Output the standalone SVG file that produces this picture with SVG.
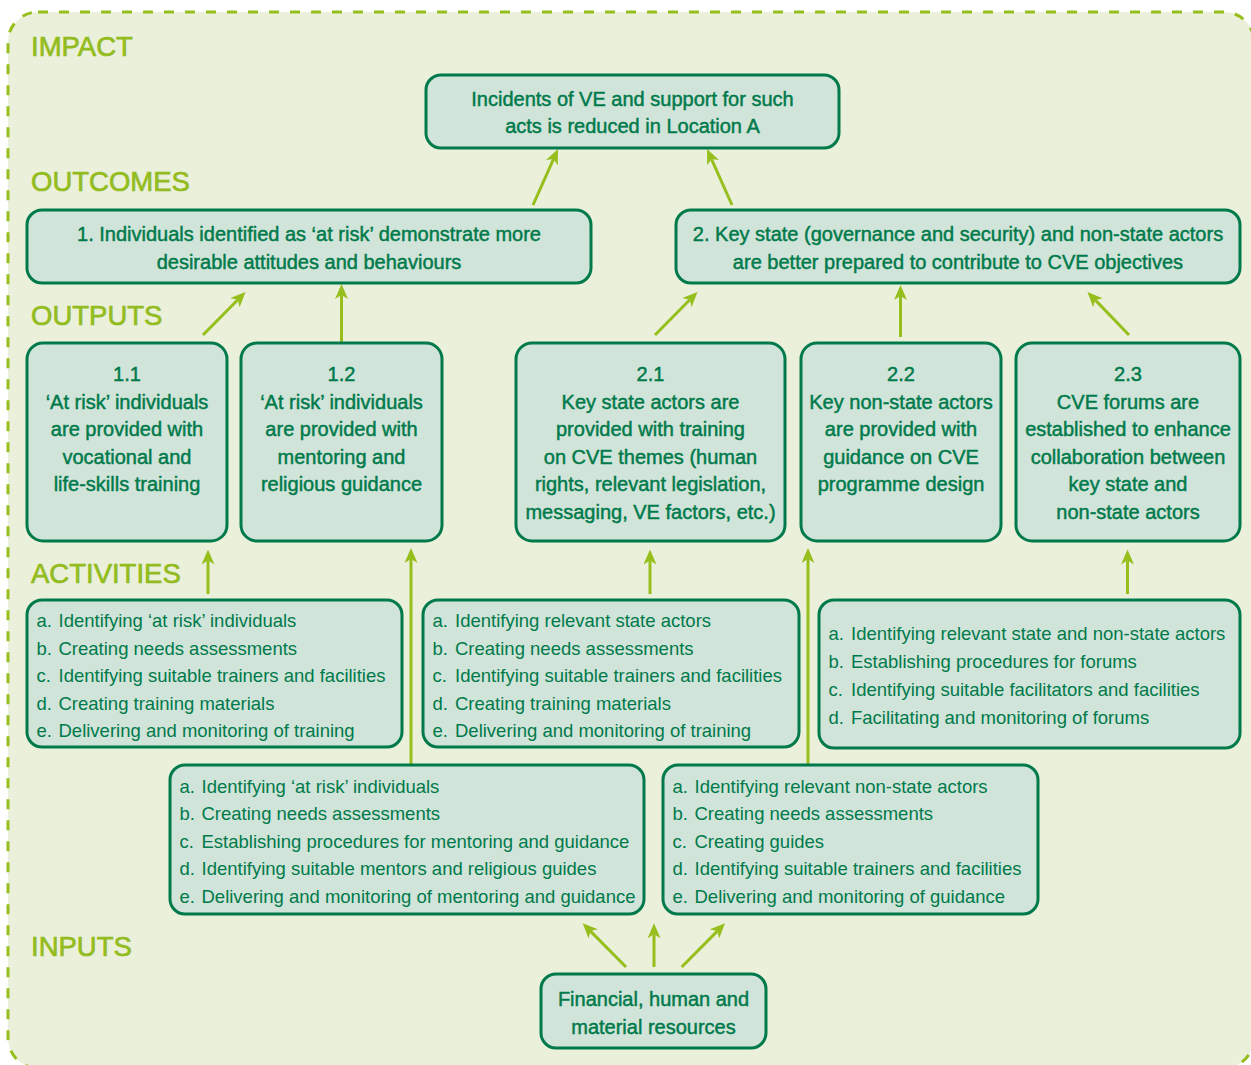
<svg xmlns="http://www.w3.org/2000/svg" width="1251" height="1065" viewBox="0 0 1251 1065">
<style>
.sec{font-family:"Liberation Sans",Arial,sans-serif;font-size:27.5px;fill:#93bc1f;stroke:#93bc1f;stroke-width:0.7}
.box{fill:#d1e4d9;stroke:#007a4b;stroke-width:3}
.h{font-family:"Liberation Sans",Arial,sans-serif;font-size:20px;fill:#007a4b;stroke:#007a4b;stroke-width:0.45;text-anchor:middle}
.t{font-family:"Liberation Sans",Arial,sans-serif;font-size:18.5px;fill:#007a4b}
.c{fill:none;stroke:#96bf1e;stroke-width:3}
</style>
<defs>
<marker id="ah" viewBox="0 0 15 13" refX="4" refY="6.5" markerWidth="15" markerHeight="13" orient="auto" markerUnits="userSpaceOnUse">
<path d="M0,0 L15,6.5 L0,13 L4,6.5 Z" fill="#96bf1e"/>
</marker>
</defs>
<rect x="0" y="0" width="1251" height="1065" fill="#ffffff"/>
<rect x="8" y="12" width="1246" height="1056" rx="30" fill="#ebf0da" stroke="#96bf1e" stroke-width="3" stroke-dasharray="10 11"/>

<g id="section-labels">
<text class="sec" x="31" y="56">IMPACT</text>
<text class="sec" x="31" y="191">OUTCOMES</text>
<text class="sec" x="31" y="325">OUTPUTS</text>
<text class="sec" x="31" y="583">ACTIVITIES</text>
<text class="sec" x="31" y="956">INPUTS</text>
</g>

<g id="connectors">
<line class="c" x1="533" y1="205" x2="553.5" y2="159.1" marker-end="url(#ah)"/>
<line class="c" x1="732" y1="205" x2="711.5" y2="159.1" marker-end="url(#ah)"/>
<line class="c" x1="203" y1="335" x2="237.8" y2="299.8" marker-end="url(#ah)"/>
<line class="c" x1="341.5" y1="343" x2="341.5" y2="295" marker-end="url(#ah)"/>
<line class="c" x1="655" y1="335" x2="689.8" y2="299.8" marker-end="url(#ah)"/>
<line class="c" x1="900.5" y1="337" x2="900.5" y2="296" marker-end="url(#ah)"/>
<line class="c" x1="1129" y1="335" x2="1095.1" y2="299.9" marker-end="url(#ah)"/>
<line class="c" x1="208" y1="594" x2="208" y2="560.5" marker-end="url(#ah)"/>
<line class="c" x1="650" y1="594" x2="650" y2="560.5" marker-end="url(#ah)"/>
<line class="c" x1="1127.5" y1="594" x2="1127.5" y2="560.5" marker-end="url(#ah)"/>
<line class="c" x1="411" y1="765" x2="411" y2="559" marker-end="url(#ah)"/>
<line class="c" x1="808" y1="765" x2="808" y2="559" marker-end="url(#ah)"/>
<line class="c" x1="626" y1="967" x2="590.4" y2="931.1" marker-end="url(#ah)"/>
<line class="c" x1="654" y1="967" x2="654" y2="934.3" marker-end="url(#ah)"/>
<line class="c" x1="681.7" y1="967" x2="717.3" y2="931.1" marker-end="url(#ah)"/>
</g>

<g id="impact">
<rect class="box" x="426" y="75" width="413" height="73" rx="15"/>
<text class="h" x="632.5" y="106">Incidents of VE and support for such</text>
<text class="h" x="632.5" y="133">acts is reduced in Location A</text>
</g>

<g id="outcome-1">
<rect class="box" x="27" y="210" width="564" height="73" rx="15"/>
<text class="h" x="309" y="241">1. Individuals identified as ‘at risk’ demonstrate more</text>
<text class="h" x="309" y="269">desirable attitudes and behaviours</text>
</g>

<g id="outcome-2">
<rect class="box" x="676" y="210" width="564" height="73" rx="15"/>
<text class="h" x="958" y="241">2. Key state (governance and security) and non-state actors</text>
<text class="h" x="958" y="269">are better prepared to contribute to CVE objectives</text>
</g>

<g id="output-1-1">
<rect class="box" x="27" y="343" width="200" height="198" rx="16"/>
<text class="h" x="127" y="381">1.1</text>
<text class="h" x="127" y="408.5">‘At risk’ individuals</text>
<text class="h" x="127" y="436">are provided with</text>
<text class="h" x="127" y="463.5">vocational and</text>
<text class="h" x="127" y="491">life-skills training</text>
</g>

<g id="output-1-2">
<rect class="box" x="241" y="343" width="201" height="198" rx="16"/>
<text class="h" x="341.5" y="381">1.2</text>
<text class="h" x="341.5" y="408.5">‘At risk’ individuals</text>
<text class="h" x="341.5" y="436">are provided with</text>
<text class="h" x="341.5" y="463.5">mentoring and</text>
<text class="h" x="341.5" y="491">religious guidance</text>
</g>

<g id="output-2-1">
<rect class="box" x="516" y="343" width="269" height="198" rx="16"/>
<text class="h" x="650.5" y="381">2.1</text>
<text class="h" x="650.5" y="408.5">Key state actors are</text>
<text class="h" x="650.5" y="436">provided with training</text>
<text class="h" x="650.5" y="463.5">on CVE themes (human</text>
<text class="h" x="650.5" y="491">rights, relevant legislation,</text>
<text class="h" x="650.5" y="518.5">messaging, VE factors, etc.)</text>
</g>

<g id="output-2-2">
<rect class="box" x="801" y="343" width="200" height="198" rx="16"/>
<text class="h" x="901" y="381">2.2</text>
<text class="h" x="901" y="408.5">Key non-state actors</text>
<text class="h" x="901" y="436">are provided with</text>
<text class="h" x="901" y="463.5">guidance on CVE</text>
<text class="h" x="901" y="491">programme design</text>
</g>

<g id="output-2-3">
<rect class="box" x="1016" y="343" width="224" height="198" rx="16"/>
<text class="h" x="1128" y="381">2.3</text>
<text class="h" x="1128" y="408.5">CVE forums are</text>
<text class="h" x="1128" y="436">established to enhance</text>
<text class="h" x="1128" y="463.5">collaboration between</text>
<text class="h" x="1128" y="491">key state and</text>
<text class="h" x="1128" y="518.5">non-state actors</text>
</g>

<g id="activities-1-1">
<rect class="box" x="27" y="600" width="375" height="147" rx="15"/>
<text class="t" x="36.5" y="627">a.</text><text class="t" x="58.5" y="627">Identifying ‘at risk’ individuals</text>
<text class="t" x="36.5" y="654.5">b.</text><text class="t" x="58.5" y="654.5">Creating needs assessments</text>
<text class="t" x="36.5" y="682">c.</text><text class="t" x="58.5" y="682">Identifying suitable trainers and facilities</text>
<text class="t" x="36.5" y="709.5">d.</text><text class="t" x="58.5" y="709.5">Creating training materials</text>
<text class="t" x="36.5" y="737">e.</text><text class="t" x="58.5" y="737">Delivering and monitoring of training</text>
</g>

<g id="activities-2-1">
<rect class="box" x="423" y="600" width="376" height="147" rx="15"/>
<text class="t" x="432.5" y="627">a.</text><text class="t" x="455" y="627">Identifying relevant state actors</text>
<text class="t" x="432.5" y="654.5">b.</text><text class="t" x="455" y="654.5">Creating needs assessments</text>
<text class="t" x="432.5" y="682">c.</text><text class="t" x="455" y="682">Identifying suitable trainers and facilities</text>
<text class="t" x="432.5" y="709.5">d.</text><text class="t" x="455" y="709.5">Creating training materials</text>
<text class="t" x="432.5" y="737">e.</text><text class="t" x="455" y="737">Delivering and monitoring of training</text>
</g>

<g id="activities-2-3">
<rect class="box" x="819" y="600" width="421" height="148" rx="15"/>
<text class="t" x="828.5" y="640">a.</text><text class="t" x="851" y="640">Identifying relevant state and non-state actors</text>
<text class="t" x="828.5" y="668">b.</text><text class="t" x="851" y="668">Establishing procedures for forums</text>
<text class="t" x="828.5" y="696">c.</text><text class="t" x="851" y="696">Identifying suitable facilitators and facilities</text>
<text class="t" x="828.5" y="723.5">d.</text><text class="t" x="851" y="723.5">Facilitating and monitoring of forums</text>
</g>

<g id="activities-1-2">
<rect class="box" x="170" y="765" width="474" height="149" rx="15"/>
<text class="t" x="179.5" y="792.5">a.</text><text class="t" x="201.5" y="792.5">Identifying ‘at risk’ individuals</text>
<text class="t" x="179.5" y="820">b.</text><text class="t" x="201.5" y="820">Creating needs assessments</text>
<text class="t" x="179.5" y="847.5">c.</text><text class="t" x="201.5" y="847.5">Establishing procedures for mentoring and guidance</text>
<text class="t" x="179.5" y="875">d.</text><text class="t" x="201.5" y="875">Identifying suitable mentors and religious guides</text>
<text class="t" x="179.5" y="902.5">e.</text><text class="t" x="201.5" y="902.5">Delivering and monitoring of mentoring and guidance</text>
</g>

<g id="activities-2-2">
<rect class="box" x="663" y="765" width="375" height="149" rx="15"/>
<text class="t" x="672.5" y="792.5">a.</text><text class="t" x="694.5" y="792.5">Identifying relevant non-state actors</text>
<text class="t" x="672.5" y="820">b.</text><text class="t" x="694.5" y="820">Creating needs assessments</text>
<text class="t" x="672.5" y="847.5">c.</text><text class="t" x="694.5" y="847.5">Creating guides</text>
<text class="t" x="672.5" y="875">d.</text><text class="t" x="694.5" y="875">Identifying suitable trainers and facilities</text>
<text class="t" x="672.5" y="902.5">e.</text><text class="t" x="694.5" y="902.5">Delivering and monitoring of guidance</text>
</g>

<g id="inputs">
<rect class="box" x="541" y="974" width="225" height="74" rx="15"/>
<text class="h" x="653.5" y="1006">Financial, human and</text>
<text class="h" x="653.5" y="1033.5">material resources</text>
</g>
</svg>
